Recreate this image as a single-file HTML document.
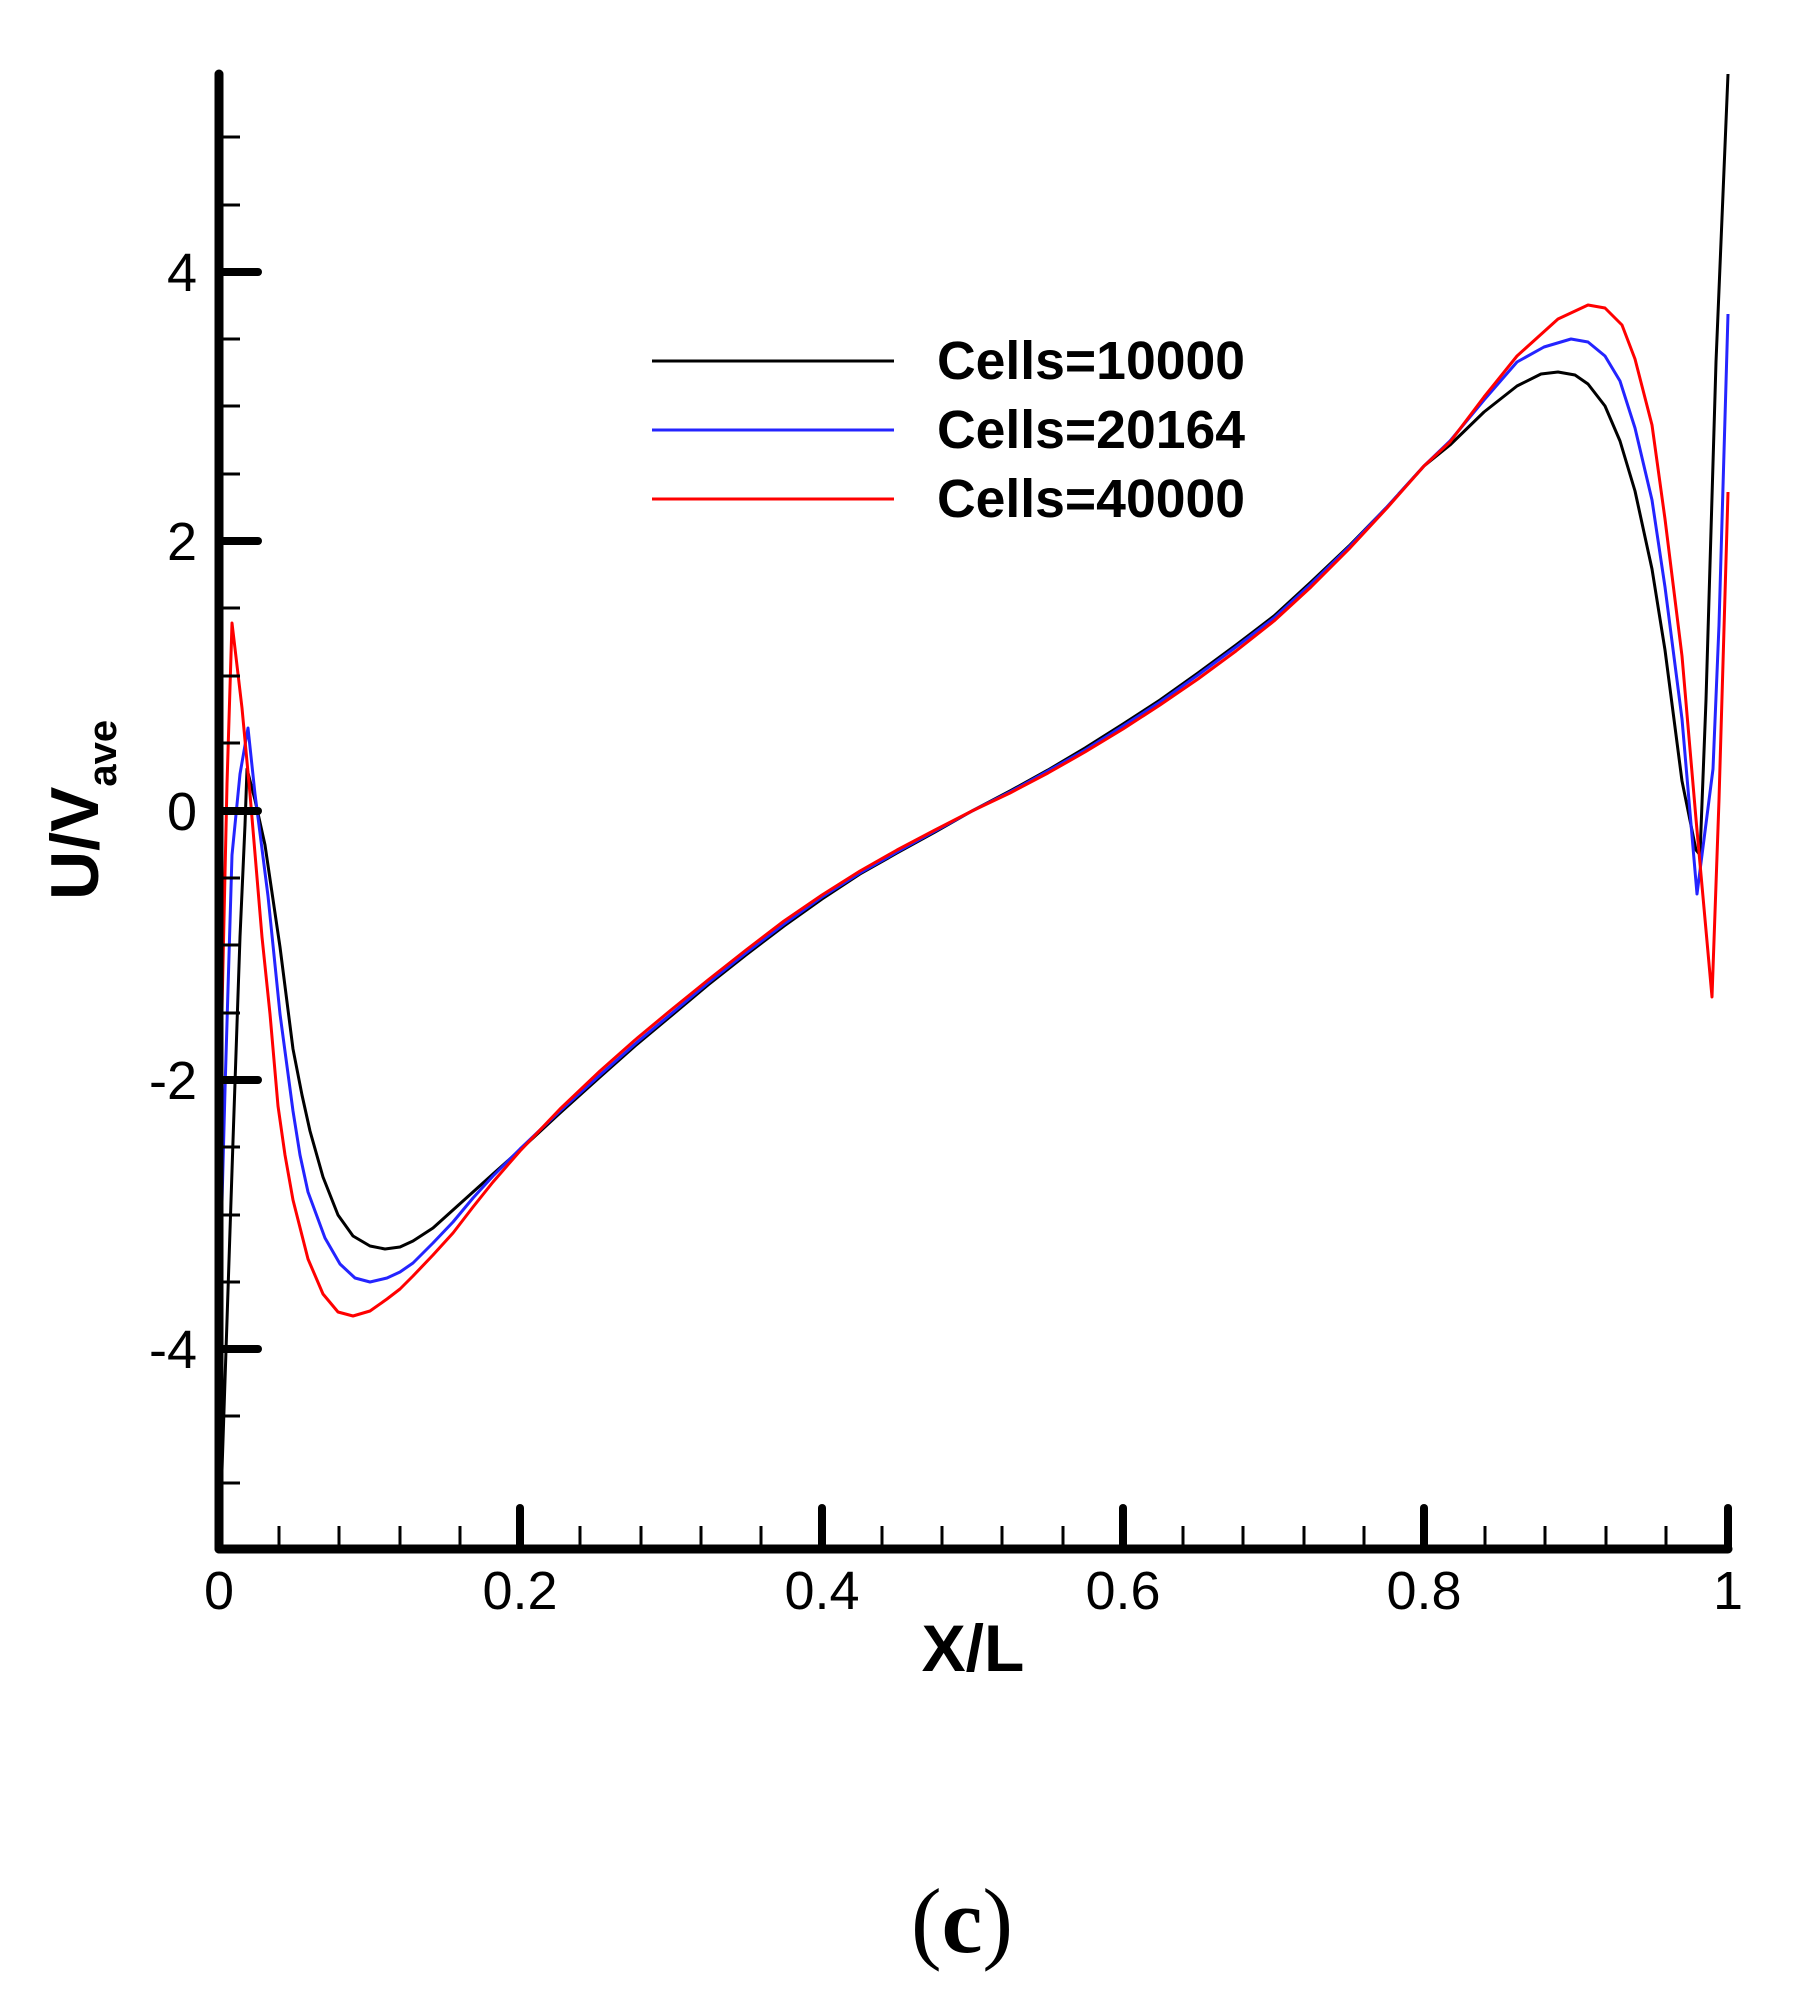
<!DOCTYPE html>
<html><head><meta charset="utf-8"><style>html,body{margin:0;padding:0;background:#fff}svg{display:block}</style></head>
<body>
<svg width="1814" height="2006" viewBox="0 0 1814 2006" xmlns="http://www.w3.org/2000/svg">
<rect width="1814" height="2006" fill="#fff"/>
<g fill="none" stroke-linejoin="round">
<!-- black -->
<polyline stroke="#000" stroke-width="3" points="221,1500 233,1141 240,937 245,825 247,769 255,800 265,845 280,947 293,1049 302,1095 310,1131 323,1177 338,1215 353,1236 370,1246 385,1249 400,1247 413,1241 433,1228 453,1210 473,1192 493,1174 520,1150 560,1113 600,1077 635,1046 671,1016 708,985 746,955 784,926 822,899 860,874 897,853 935,832 972,811 1010,791 1048,770 1085,748 1123,724 1160,700 1198,673 1236,645 1274,616 1311,582 1349,546 1387,507 1424,466 1450,445 1484,412 1517,386 1541,374 1558,372 1575,375 1588,384 1605,406 1620,441 1635,491 1652,569 1665,650 1682,781 1696,850 1700,855 1706,700 1716,362 1728,74"/>
<!-- blue -->
<polyline stroke="#2424ff" stroke-width="3" points="222,1202 225,1090 232,855 240,774 248,728 255,794 268,896 280,1014 293,1111 300,1155 308,1192 325,1238 340,1264 355,1278 370,1282 387,1278 400,1272 413,1263 433,1243 453,1222 473,1198 493,1176 520,1149 560,1111 600,1075 635,1044 671,1014 708,983 746,953 784,924 822,897 860,873 897,852 935,831 972,811 1010,792 1048,771 1085,750 1123,726 1160,702 1198,675 1236,647 1274,618 1311,584 1349,547 1387,507 1424,466 1450,441 1484,400 1517,362 1544,347 1571,339 1588,342 1605,356 1620,381 1635,428 1652,500 1665,587 1682,719 1697,894 1713,769 1719,625 1728,314"/>
<!-- red -->
<polyline stroke="#ff0000" stroke-width="3" points="222,1009 227,784 232,623 242,708 250,794 262,937 270,1014 278,1106 285,1155 293,1200 308,1259 323,1294 338,1312 353,1316 370,1311 387,1299 400,1289 413,1276 433,1255 453,1233 473,1207 493,1182 520,1151 560,1109 600,1071 635,1040 671,1010 708,980 746,950 784,921 822,895 860,871 897,850 935,830 972,811 1010,793 1048,773 1085,752 1123,729 1160,705 1198,679 1236,651 1274,621 1311,587 1349,549 1387,508 1424,466 1450,442 1484,397 1517,356 1558,319 1588,305 1605,308 1622,325 1635,359 1652,425 1665,519 1682,656 1696,819 1712,997 1719,800 1728,492"/>
</g>
<!-- axes -->
<g stroke="#000" stroke-linecap="round">
<line x1="219" y1="74" x2="219" y2="1549" stroke-width="9"/>
<line x1="219" y1="1549" x2="1728" y2="1549" stroke-width="9"/>
<g stroke-width="8">
<line x1="520" y1="1549" x2="520" y2="1508"/>
<line x1="822" y1="1549" x2="822" y2="1508"/>
<line x1="1123" y1="1549" x2="1123" y2="1508"/>
<line x1="1424" y1="1549" x2="1424" y2="1508"/>
<line x1="1728" y1="1549" x2="1728" y2="1508"/>
<line x1="219" y1="272" x2="258" y2="272"/>
<line x1="219" y1="541" x2="258" y2="541"/>
<line x1="219" y1="811" x2="258" y2="811"/>
<line x1="219" y1="1080" x2="258" y2="1080"/>
<line x1="219" y1="1349" x2="258" y2="1349"/>
</g>
<g stroke-width="3" stroke-linecap="butt">
<path d="M279,1549V1526 M339,1549V1526 M400,1549V1526 M460,1549V1526 M580,1549V1526 M641,1549V1526 M701,1549V1526 M761,1549V1526 M882,1549V1526 M942,1549V1526 M1002,1549V1526 M1063,1549V1526 M1183,1549V1526 M1243,1549V1526 M1304,1549V1526 M1364,1549V1526 M1485,1549V1526 M1545,1549V1526 M1606,1549V1526 M1666,1549V1526"/>
<path d="M219,137H240 M219,205H240 M219,339H240 M219,406H240 M219,474H240 M219,608H240 M219,676H240 M219,743H240 M219,878H240 M219,945H240 M219,1013H240 M219,1147H240 M219,1215H240 M219,1282H240 M219,1416H240 M219,1483H240"/>
</g>
</g>
<g font-family="Liberation Sans, sans-serif" font-size="54" fill="#000">
<g text-anchor="end">
<text x="197" y="291">4</text>
<text x="197" y="560">2</text>
<text x="197" y="830">0</text>
<text x="197" y="1099">-2</text>
<text x="197" y="1368">-4</text>
</g>
<g text-anchor="middle">
<text x="219" y="1609">0</text>
<text x="520" y="1609">0.2</text>
<text x="822" y="1609">0.4</text>
<text x="1123" y="1609">0.6</text>
<text x="1424" y="1609">0.8</text>
<text x="1728" y="1609">1</text>
</g>
</g>
<text x="973" y="1671" text-anchor="middle" font-family="Liberation Sans, sans-serif" font-weight="bold" font-size="66">X/L</text>
<text transform="translate(98,900) rotate(-90)" font-family="Liberation Sans, sans-serif" font-weight="bold" font-size="68">U/V<tspan font-size="40" dy="18">ave</tspan></text>
<g stroke-width="3">
<line x1="652" y1="361" x2="894" y2="361" stroke="#000"/>
<line x1="652" y1="430" x2="894" y2="430" stroke="#2424ff"/>
<line x1="652" y1="499" x2="894" y2="499" stroke="#ff0000"/>
</g>
<g font-family="Liberation Sans, sans-serif" font-weight="bold" font-size="54" fill="#000">
<text x="937" y="379" textLength="308" lengthAdjust="spacingAndGlyphs">Cells=10000</text>
<text x="937" y="448" textLength="308" lengthAdjust="spacingAndGlyphs">Cells=20164</text>
<text x="937" y="517" textLength="308" lengthAdjust="spacingAndGlyphs">Cells=40000</text>
</g>
<text x="962" y="1952" text-anchor="middle" font-family="Liberation Serif, serif" font-size="92">(<tspan font-weight="bold">c</tspan>)</text>
</svg>
</body></html>
